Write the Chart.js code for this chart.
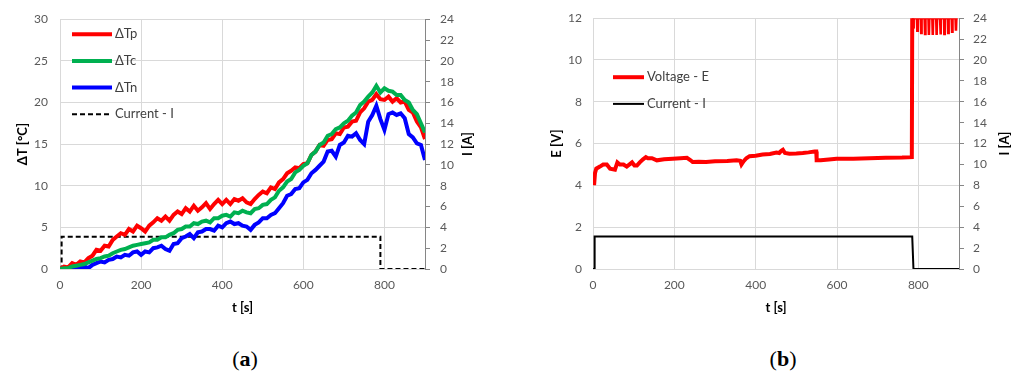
<!DOCTYPE html>
<html>
<head>
<meta charset="utf-8">
<script src="https://cdn.jsdelivr.net/npm/chart.js@4.4.0/dist/chart.umd.min.js"></script>
<style>
body{margin:0;background:#fff;width:1021px;height:380px;position:relative;overflow:hidden;}
canvas{position:absolute;top:0;}
.cap{position:absolute;top:346px;font-family:"Liberation Serif",serif;font-size:22px;color:#000;transform:translateX(-50%);}
</style>
</head>
<body>
<canvas id="chartA" width="492" height="330" style="left:0"></canvas>
<canvas id="chartB" width="511" height="330" style="left:510px"></canvas>
<div class="cap" style="left:245px">(<b>a</b>)</div>
<div class="cap" style="left:783px">(<b>b</b>)</div>
<script>
// waktu (s) untuk grafik (a), tiap 10 s
const tTemp = [0,10,20,30,40,50,60,70,80,90,100,110,120,130,140,150,160,170,180,190,
  200,210,220,230,240,250,260,270,280,290,300,310,320,330,340,350,360,370,380,390,
  400,410,420,430,440,450,460,470,480,490,500,510,520,530,540,550,560,570,580,590,
  600,610,620,630,640,650,660,670,680,690,700,710,720,730,740,750,760,770,780,790,
  800,810,820,830,840,850,860,870,880,890,900];
const dTp = [0,0.3,0.2,0.7,0.5,0.9,0.8,1.3,1.6,2.3,2.2,2.8,2.7,3.5,3.9,4.3,4.1,4.8,4.5,5.2,
  4.9,4.5,5.2,5.6,6.1,5.8,6.3,5.8,6.5,6.9,6.6,7.3,6.9,7.6,7.0,7.4,7.9,7.2,7.8,8.3,
  7.8,8.3,7.8,8.4,8.2,8.5,8.0,7.8,8.4,8.9,9.3,9.1,9.8,9.6,10.4,10.8,11.5,11.8,12.2,12.1,
  12.6,12.7,13.7,14.1,14.9,14.8,15.5,15.6,16.3,16.2,17.0,17.1,17.7,17.8,18.8,19.3,20.1,20.3,21.0,20.4,
  20.3,20.7,20.1,20.5,20.0,20.1,19.1,18.8,17.7,17.0,15.6];
const dTc = [0,0.1,0.1,0.3,0.4,0.5,0.6,0.8,1.0,1.2,1.3,1.5,1.6,1.9,2.1,2.3,2.4,2.6,2.8,2.9,
  3.0,3.1,3.2,3.5,3.5,3.8,3.8,4.1,4.3,4.7,4.8,5.1,5.1,5.5,5.4,5.7,5.8,5.6,6.1,6.1,
  6.4,6.5,6.3,6.8,6.7,7.0,6.8,6.7,7.2,7.3,7.7,7.8,8.3,8.6,9.4,9.8,10.5,10.8,11.6,11.9,
  12.4,12.7,13.7,14.1,14.9,15.2,16.0,16.2,16.8,17.0,17.5,17.8,18.4,18.8,19.7,20.1,20.7,21.2,22.0,21.2,
  21.7,21.4,21.3,20.9,20.9,20.3,20.0,19.1,18.6,17.5,16.4];
const dTn = [0,0,0,0,0,0.1,0.3,0.1,0.5,0.7,0.9,0.8,1.1,1.2,1.5,1.4,1.7,1.6,2.0,2.1,
  1.7,2.1,2.0,2.5,2.6,2.8,2.4,2.2,3.0,3.1,3.7,3.9,4.2,3.7,4.4,4.5,4.8,4.8,4.6,5.2,
  5.0,5.5,5.7,5.4,5.5,5.2,5.1,4.7,5.3,5.6,6.1,6.1,6.5,6.7,7.3,7.9,8.8,9.0,9.6,9.7,
  10.4,10.7,11.5,11.9,12.4,12.9,14.1,14.2,13.5,14.9,15.2,16.0,15.9,16.3,15.5,15.0,17.7,18.5,19.6,18.0,
  16.7,18.6,18.8,18.5,18.7,18.1,16.2,15.8,15.1,14.9,13.1];
const tCurA = [0,4,4,790,790,900];
const curA  = [0,0,3.1,3.1,0,0];

// grafik (b): tegangan E dan arus I
const tVolt = [0,3,5,8,17,25,34,42,54,60,66,75,83,96,102,108,115,123,130,135,145,157,175,196,215,231,240,245,
  260,278,300,330,353,362,365,370,377,385,400,417,435,451,458,463,467,472,483,500,516,530,545,549,550,560,
  580,599,640,680,720,760,784,785,
  787,788,789, 796.5,797.5,798.5, 806,807,808, 815.5,816.5,817.5, 825,826,827, 834.5,835.5,836.5,
  844,845,846, 853.5,854.5,855.5, 863,864,865, 872.5,873.5,874.5, 882,883,884, 891.5,892.5,893.5, 897];
const volt = [4.1,4.1,4.6,4.8,4.9,5.0,5.0,4.8,4.75,5.1,5.0,5.0,4.9,5.1,4.95,4.95,5.1,5.25,5.35,5.3,5.3,5.2,5.25,5.28,5.3,5.32,5.2,5.12,
  5.13,5.12,5.15,5.17,5.2,5.18,5.0,5.15,5.3,5.4,5.42,5.48,5.5,5.57,5.55,5.65,5.7,5.55,5.52,5.53,5.55,5.58,5.62,5.62,5.2,5.2,
  5.24,5.27,5.28,5.3,5.32,5.33,5.35,12,
  12,11.5,12, 12,11.4,12, 12,11.3,12, 12,11.25,12, 12,11.2,12, 12,11.2,12,
  12,11.2,12, 12,11.22,12, 12,11.25,12, 12,11.3,12, 12,11.35,12, 12,11.4,12, 12];
const tCurB = [0,4,4,785,788,900];
const curB  = [0,0,3.1,3.1,0,0];

const xTicks = [0,200,400,600,800];

const pts = (xs, ys) => xs.map((x, i) => ({x: x, y: ys[i]}));

const FONT = 'Lato';
const tickCol = '#595959';
const gridCol = '#d9d9d9';

// legenda di dalam area plot
const inLegend = {
  id: 'inLegend',
  afterDatasetsDraw(chart, args, opts) {
    const ctx = chart.ctx, a = chart.chartArea;
    ctx.save();
    chart.data.datasets.forEach((ds, i) => {
      const y = a.top + opts.top + i * opts.row;
      const x = a.left + opts.left;
      ctx.beginPath();
      ctx.strokeStyle = ds.borderColor;
      ctx.lineWidth = ds.borderWidth;
      ctx.setLineDash(ds.borderDash || []);
      ctx.moveTo(x, y);
      ctx.lineTo(x + opts.len, y);
      ctx.stroke();
      ctx.setLineDash([]);
      ctx.fillStyle = '#404040';
      ctx.font = '13px ' + FONT;
      ctx.textBaseline = 'middle';
      ctx.fillText(ds.label, x + opts.len + 3, y);
    });
    ctx.restore();
  }
};

// judul sumbu kanan, dibaca dari bawah ke atas seperti di Excel
const rightTitle = {
  id: 'rightTitle',
  afterDraw(chart, args, opts) {
    const s = chart.scales.y2, a = chart.chartArea, ctx = chart.ctx;
    ctx.save();
    ctx.translate(s.right - opts.offset, (a.top + a.bottom) / 2);
    ctx.rotate(-Math.PI / 2);
    ctx.font = 'bold 13px ' + FONT;
    ctx.fillStyle = '#000';
    ctx.textAlign = 'center';
    ctx.textBaseline = 'middle';
    ctx.fillText(opts.text, 0, 0);
    ctx.restore();
  }
};

function scalesFor(leftTitle, leftMax, leftStep, lw, lTitlePad, lTickPad, rw, rTickPad) {
  return {
    x: {
      type: 'linear', min: 0, max: 900,
      afterBuildTicks: s => { s.ticks = xTicks.map(v => ({value: v})); },
      afterFit: s => { s.height = 61; },
      grid: {color: gridCol, drawTicks: false},
      border: {color: gridCol},
      ticks: {color: tickCol, font: {family: FONT, size: 12}, padding: 9},
      title: {display: true, text: 't [s]', color: '#000', font: {family: FONT, size: 13, weight: 'bold'}, padding: {top: 0, bottom: 14}}
    },
    y: {
      position: 'left', min: 0, max: leftMax,
      afterFit: s => { s.width = lw; },
      grid: {color: gridCol, drawTicks: false},
      border: {color: gridCol},
      ticks: {stepSize: leftStep, color: tickCol, font: {family: FONT, size: 12}, padding: lTickPad},
      title: {display: true, text: leftTitle, color: '#000', font: {family: FONT, size: 13, weight: 'bold'}, padding: {top: lTitlePad, bottom: 0}}
    },
    y2: {
      position: 'right', min: 0, max: 24,
      afterFit: s => { s.width = rw; },
      grid: {drawOnChartArea: false, drawTicks: true, tickLength: 5, tickColor: '#868686'},
      border: {color: '#868686'},
      ticks: {stepSize: 2, color: tickCol, font: {family: FONT, size: 12}, padding: rTickPad},
      title: {display: false}
    }
  };
}

const common = {
  responsive: false,
  devicePixelRatio: 1,
  animation: false,
  layout: {padding: {top: 16, left: 0, right: 0, bottom: 0}},
  elements: {point: {radius: 0}, line: {tension: 0}}
};

new Chart(document.getElementById('chartA'), {
  type: 'line',
  data: {
    datasets: [
      {label: 'ΔTp', data: pts(tTemp, dTp), borderColor: '#ff0000', borderWidth: 4, yAxisID: 'y', order: 1},
      {label: 'ΔTc', data: pts(tTemp, dTc), borderColor: '#00b050', borderWidth: 4, yAxisID: 'y', order: 0},
      {label: 'ΔTn', data: pts(tTemp, dTn), borderColor: '#0000ff', borderWidth: 4, yAxisID: 'y', order: 2},
      {label: 'Current - I', data: pts(tCurA, curA), borderColor: '#000000', borderWidth: 2, borderDash: [5, 3], yAxisID: 'y2', order: 3}
    ]
  },
  options: Object.assign({}, common, {
    scales: scalesFor('ΔT [°C]', 30, 5, 60, 15, 12, 67, 10),
    plugins: {legend: {display: false}, tooltip: {enabled: false},
      inLegend: {left: 12, top: 15, row: 26.7, len: 40},
      rightTitle: {text: 'I [A]', offset: 24}}
  }),
  plugins: [inLegend, rightTitle]
});

new Chart(document.getElementById('chartB'), {
  type: 'line',
  data: {
    datasets: [
      {label: 'Voltage - E', data: pts(tVolt, volt), borderColor: '#ff0000', borderWidth: 4, yAxisID: 'y', clip: 0,
        segment: {borderWidth: c => c.p0.parsed.x >= 786 ? 2.6 : 4}},
      {label: 'Current - I', data: pts(tCurB, curB), borderColor: '#000000', borderWidth: 2, yAxisID: 'y2'}
    ]
  },
  options: Object.assign({}, common, {
    scales: scalesFor('E [V]', 12, 2, 83, 39, 11, 62, 9),
    plugins: {legend: {display: false}, tooltip: {enabled: false},
      inLegend: {left: 20, top: 59, row: 26.7, len: 31},
      rightTitle: {text: 'I [A]', offset: 16}}
  }),
  plugins: [inLegend, rightTitle]
});
</script>
</body>
</html>
